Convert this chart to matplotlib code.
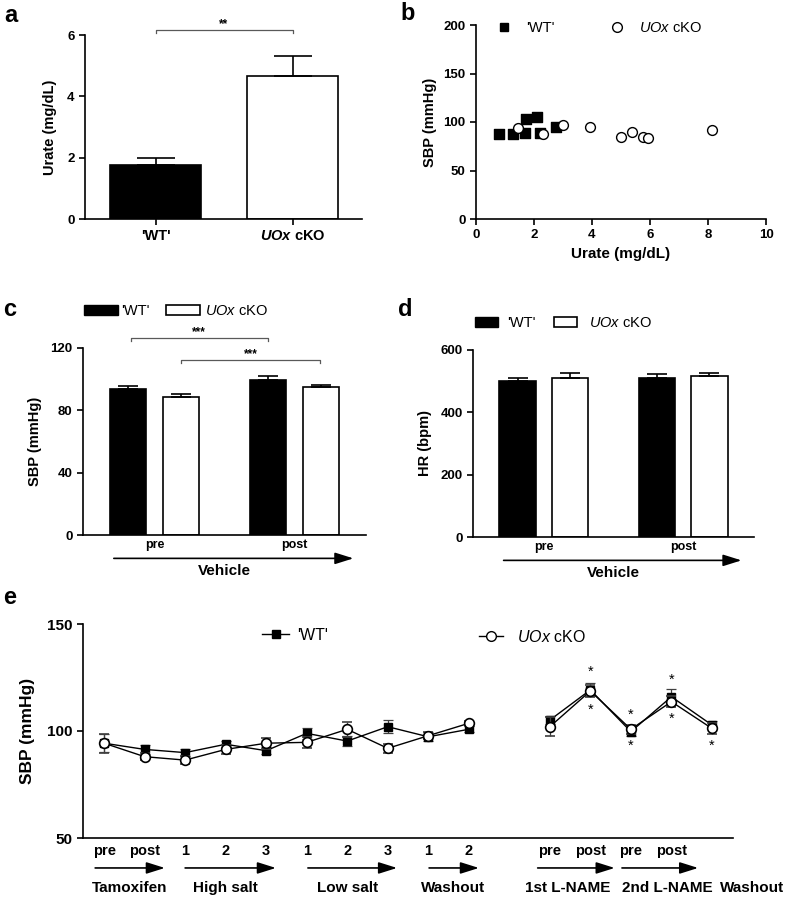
import numpy as np
import matplotlib
matplotlib.use('Agg')
import matplotlib.pyplot as plt
from matplotlib.patches import Patch
from matplotlib.lines import Line2D

plt.rcParams['font.family'] = ['Liberation Sans', 'DejaVu Sans']
plt.rcParams['mathtext.fontset'] = 'custom'
plt.rcParams['mathtext.rm'] = 'Liberation Sans'
plt.rcParams['mathtext.it'] = 'Liberation Sans:italic'
plt.rcParams['mathtext.bf'] = 'Liberation Sans:bold:italic'
plt.rcParams['axes.linewidth'] = 1.2

# panel a: serum urate
groups = ["'WT'", r"$\mathbf{UOx}$ cKO"]
urate_mean = [1.76, 4.66]
urate_sem = [0.23, 0.65]

# panel b: SBP vs urate per animal
wt_urate = [0.80, 1.29, 1.72, 1.69, 2.11, 2.22, 2.76]
wt_sbp = [87.6, 87.6, 102.7, 89.0, 104.8, 89.0, 94.5]
ko_urate = [1.46, 2.32, 2.99, 3.93, 5.00, 5.37, 5.77, 5.94, 8.13]
ko_sbp = [93.5, 87.6, 96.9, 94.5, 84.9, 89.3, 84.9, 83.8, 91.8]

# panels c, d: vehicle pre / post
phases = ['pre', 'post']
sbp_wt = [93.5, 99.3]
sbp_wt_sem = [2.1, 2.7]
sbp_ko = [88.8, 94.8]
sbp_ko_sem = [1.5, 1.5]
hr_wt = [501, 509]
hr_wt_sem = [10, 13]
hr_ko = [509, 517]
hr_ko_sem = [18, 10]

# panel e: time course (index 10 is an empty slot)
nan = np.nan
e_ticks = ['pre', 'post', '1', '2', '3', '1', '2', '3', '1', '2', '',
           'pre', 'post', 'pre', 'post', '']
e_wt = [94.3, 91.4, 89.9, 93.8, 90.8, 98.9, 95.3, 102.0, 97.3, 100.8, nan,
        105.1, 119.2, 99.7, 116.0, 102.8]
e_wt_sem = [4.2, 2.0, 1.5, 1.5, 1.5, 2.5, 2.5, 3.0, 2.0, 1.5, nan,
            2.0, 3.0, 2.0, 3.5, 2.0]
e_ko = [94.3, 88.0, 86.4, 91.4, 94.3, 94.7, 100.8, 91.9, 97.8, 103.6, nan,
        102.0, 118.7, 100.8, 113.7, 101.2]
e_ko_sem = [4.5, 1.5, 2.0, 2.0, 2.5, 2.5, 3.5, 2.0, 1.5, 1.0, nan,
            4.5, 3.0, 2.0, 2.5, 2.5]
star_hi_x = [12, 13, 14]
star_hi_y = [127.5, 107.5, 124.0]
star_lo_x = [12, 13, 14, 15]
star_lo_y = [110.0, 93.0, 105.5, 93.0]
e_groups = ['Tamoxifen', 'High salt', 'Low salt', 'Washout',
            '1st L-NAME', '2nd L-NAME', 'Washout']

W, H = 790, 902
fig = plt.figure(figsize=(W / 100, H / 100), dpi=100)
ARROW = '-|>,head_length=0.7,head_width=0.22'


def px_axes(l, t, r, b, size=9.5):
    ax = fig.add_axes([l / W, 1 - b / H, (r - l) / W, (b - t) / H])
    for s in ['top', 'right']:
        ax.spines[s].set_visible(False)
    ax.tick_params(direction='out', length=4, width=1.2, labelsize=size)
    return ax


def key(handle, label, x, y, size=10, hl=1.0, pad=0.8):
    fig.legend(handles=[handle], labels=[label], loc='center left',
               bbox_to_anchor=(x / W, 1 - y / H), frameon=False,
               borderpad=0, borderaxespad=0, fontsize=size,
               handlelength=hl, handletextpad=pad)


def bracket(ax, x0, x1, y, drop, text):
    ax.plot([x0, x0, x1, x1], [y - drop, y, y, y - drop], color='0.35',
            lw=0.9, clip_on=False)
    ax.text((x0 + x1) / 2, y, text, ha='center', va='bottom', fontsize=8.5,
            fontweight='bold')


def bold_ticks(ax):
    for lab in ax.get_yticklabels() + ax.get_xticklabels():
        lab.set_fontweight('bold')


def under_arrow(ax, x0, x1, y):
    ax.annotate('', xy=(x1, y), xytext=(x0, y),
                xycoords=('data', 'axes fraction'),
                arrowprops=dict(arrowstyle=ARROW, mutation_scale=16,
                                lw=1.2, color='black', shrinkA=0, shrinkB=0))


# ---- a ----
ax = px_axes(85, 35, 362, 219)
xa = np.arange(2)
ax.bar(xa, urate_mean, width=0.66, color=['black', 'white'],
       edgecolor='black', linewidth=1.2)
ax.errorbar(xa, urate_mean, yerr=[[0, 0], urate_sem], fmt='none',
            ecolor='black', elinewidth=1.2, capsize=14, capthick=1.2)
ax.set_xlim(-0.515, 1.507)
ax.set_ylim(0, 6)
ax.set_yticks([0, 2, 4, 6])
ax.set_xticks(xa)
ax.set_xticklabels(groups, fontsize=10.5, fontweight='bold')
ax.set_ylabel('Urate (mg/dL)', fontsize=10.5, fontweight='bold', labelpad=7)
bold_ticks(ax)
bracket(ax, 0, 1, 6.16, 0.1, '**')

# ---- b ----
ax = px_axes(476, 25, 766, 219)
ax.scatter(wt_urate, wt_sbp, marker='s', s=42, color='black', zorder=3)
ax.scatter(ko_urate, ko_sbp, marker='o', s=50, facecolor='white',
           edgecolor='black', linewidth=1.0, zorder=3)
ax.set_xlim(0, 10)
ax.set_ylim(0, 200)
ax.set_xticks([0, 2, 4, 6, 8, 10])
ax.set_yticks([0, 50, 100, 150, 200])
ax.set_xlabel('Urate (mg/dL)', fontsize=11, fontweight='bold')
ax.set_ylabel('SBP (mmHg)', fontsize=10.5, fontweight='bold', labelpad=5)
bold_ticks(ax)
key(Line2D([], [], marker='s', color='black', ls='none', markersize=6),
    "'WT'", 497, 28, size=10.5, hl=1.0, pad=1.0)
key(Line2D([], [], marker='o', mfc='white', mec='black', ls='none',
           markersize=7), r"$UOx$ cKO", 610, 28, size=10.5, hl=1.0, pad=1.0)


# ---- c, d ----
def paired(l, t, r, b, wt, wt_e, ko, ko_e, ylim, yticks, ylabel):
    ax = px_axes(l, t, r, b)
    xp = np.arange(len(phases))
    ax.bar(xp - 0.19, wt, width=0.26, color='black', edgecolor='black',
           linewidth=1.2)
    ax.bar(xp + 0.19, ko, width=0.26, color='white', edgecolor='black',
           linewidth=1.2)
    ax.errorbar(xp - 0.19, wt, yerr=[[0] * len(wt), wt_e], fmt='none',
                ecolor='black', elinewidth=1.2, capsize=7, capthick=1.2)
    ax.errorbar(xp + 0.19, ko, yerr=[[0] * len(ko), ko_e], fmt='none',
                ecolor='black', elinewidth=1.2, capsize=7, capthick=1.2)
    ax.set_xlim(-0.51, 1.51)
    ax.set_ylim(*ylim)
    ax.set_yticks(yticks)
    ax.set_xticks(xp)
    ax.set_xticklabels(phases, fontsize=9, fontweight='bold')
    ax.tick_params(axis='x', length=0, pad=3)
    ax.set_ylabel(ylabel, fontsize=10.5, fontweight='bold', labelpad=6)
    bold_ticks(ax)
    under_arrow(ax, -0.29, 1.42, -0.125)
    ax.text(0.5, -0.19, 'Vehicle', transform=ax.get_xaxis_transform(),
            ha='center', va='center', fontsize=11, fontweight='bold')
    return ax


ax = paired(83, 348, 366, 535, sbp_wt, sbp_wt_sem, sbp_ko, sbp_ko_sem,
            (0, 120), [0, 40, 80, 120], 'SBP (mmHg)')
bracket(ax, -0.17, 0.81, 126.4, 2.0, '***')
bracket(ax, 0.19, 1.18, 112.3, 2.0, '***')
key(Patch(facecolor='black', edgecolor='black'), "'WT'", 84, 311,
    size=10.5, hl=2.3, pad=0.25)
key(Patch(facecolor='white', edgecolor='black', linewidth=1.2),
    r"$UOx$ cKO", 166, 311, size=10.5, hl=2.3, pad=0.35)

ax = paired(473, 350, 754, 537, hr_wt, hr_wt_sem, hr_ko, hr_ko_sem,
            (0, 600), [0, 200, 400, 600], 'HR (bpm)')
key(Patch(facecolor='black', edgecolor='black'), "'WT'", 475, 323,
    size=10.5, hl=1.6, pad=0.6)
key(Patch(facecolor='white', edgecolor='black', linewidth=1.2),
    r"$UOx$ cKO", 554, 323, size=10.5, hl=1.6, pad=0.8)

# ---- e ----
ax = px_axes(83, 624, 733, 838, size=11)
xe = np.arange(len(e_ticks))
ax.errorbar(xe, e_wt, yerr=e_wt_sem, color='black', lw=1.0, marker='s',
            markersize=6, mfc='black', mec='black', ecolor='0.25',
            elinewidth=0.9, capsize=3.5, capthick=0.9, zorder=3)
ax.errorbar(xe, e_ko, yerr=e_ko_sem, color='black', lw=1.0, marker='o',
            markersize=7, mfc='white', mec='black', mew=1.2, ecolor='0.25',
            elinewidth=0.9, capsize=3.5, capthick=0.9, zorder=4)
for x, y in zip(star_hi_x, star_hi_y):
    ax.text(x, y, '*', ha='center', va='center', fontsize=10.5)
for x, y in zip(star_lo_x, star_lo_y):
    ax.text(x, y, '*', ha='center', va='center', fontsize=10.5)
ax.set_xlim(-0.52, 15.52)
ax.set_ylim(50, 150)
ax.set_yticks([50, 100, 150])
ax.set_xticks(xe)
ax.set_xticklabels(e_ticks, fontsize=10.5, fontweight='bold')
ax.tick_params(axis='x', length=0, pad=4)
ax.set_ylabel('SBP (mmHg)', fontsize=12.5, fontweight='bold', labelpad=9)
bold_ticks(ax)
arrows = [(-0.22, 1.5), (2.0, 4.24), (5.03, 7.23), (8.02, 9.25),
          (10.7, 12.6), (12.78, 14.66)]
label_x = [0.64, 3.0, 6.02, 8.6, 11.45, 13.9, 16.0]
for x0, x1 in arrows:
    under_arrow(ax, x0, x1, -0.14)
for x, name in zip(label_x, e_groups):
    ax.text(x, -0.234, name, transform=ax.get_xaxis_transform(),
            ha='center', va='center', fontsize=11, fontweight='bold',
            clip_on=False)
key(Line2D([], [], marker='s', color='black', lw=1.0, markersize=6),
    "'WT'", 262, 635, size=11.5, hl=1.7, pad=0.5)
key(Line2D([], [], marker='o', color='black', mfc='white', lw=1.0,
           markersize=7), r"$UOx$ cKO", 479, 637, size=11.5, hl=1.5, pad=0.9)

# panel letters
for letter, x, y in [('a', 4, 15), ('b', 400, 14), ('c', 3, 309),
                     ('d', 398, 309), ('e', 3, 598)]:
    fig.text(x / W, 1 - y / H, letter, fontsize=17, fontweight='bold',
             ha='left', va='center')

fig.savefig('out.png', dpi=100)
